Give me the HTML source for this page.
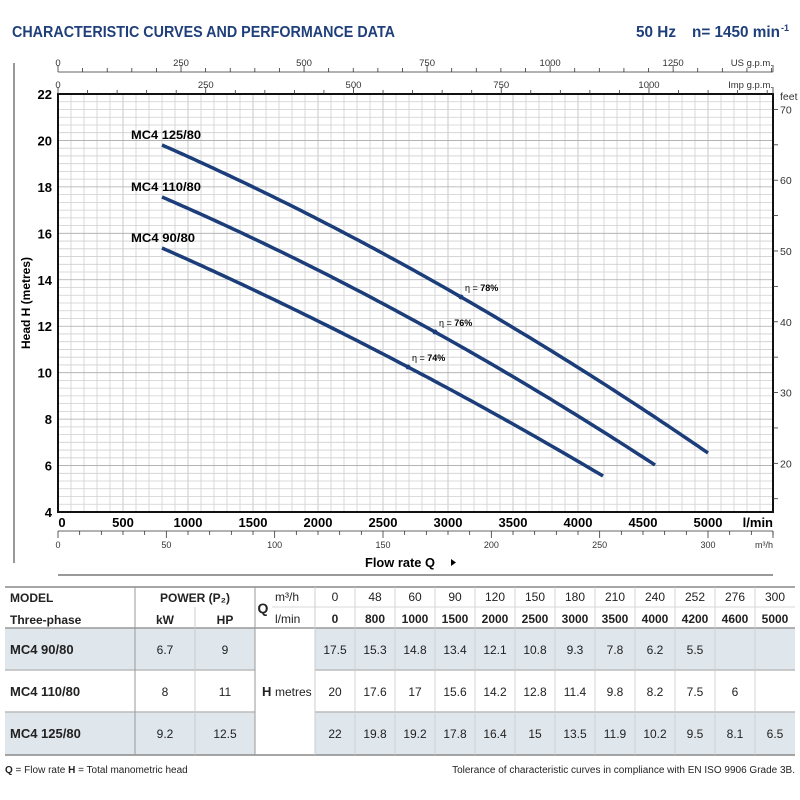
<!DOCTYPE html>
<html><head><meta charset="utf-8">
<style>
body{margin:0;background:#fff;width:800px;height:800px;overflow:hidden;font-family:"Liberation Sans",sans-serif;}
svg{position:absolute;left:0;top:0}
</style></head><body>
<svg id="s" width="800" height="800" xmlns="http://www.w3.org/2000/svg" font-family="Liberation Sans, sans-serif">
<text x="12" y="37" font-size="15.5" font-weight="bold" fill="#1f3f7a" textLength="383" lengthAdjust="spacingAndGlyphs">CHARACTERISTIC CURVES AND PERFORMANCE DATA</text>
<text x="636" y="37" font-size="15.5" font-weight="bold" fill="#1f3f7a" textLength="40" lengthAdjust="spacingAndGlyphs">50 Hz</text>
<text x="692" y="37" font-size="15.5" font-weight="bold" fill="#1f3f7a" textLength="88" lengthAdjust="spacingAndGlyphs">n= 1450 min</text><text x="781" y="31" font-size="9" font-weight="bold" fill="#1f3f7a">-1</text>
<line x1="14" y1="63" x2="14" y2="563" stroke="#333" stroke-width="1"/>
<g id="g"></g>
<text transform="translate(30,303) rotate(-90)" text-anchor="middle" font-size="12" font-weight="bold">Head H  (metres)</text>
<text x="400" y="567" text-anchor="middle" font-size="13" font-weight="bold" textLength="70" lengthAdjust="spacingAndGlyphs">Flow rate  Q</text>
<path d="M451,559 L456,562.5 L451,566 Z" fill="#000"/>
<line x1="58" y1="575" x2="773" y2="575" stroke="#333" stroke-width="1"/>
</svg>
<script>
const s=document.getElementById('g');let h='';
const X=q=>58+0.13*q, Y=m=>94+(22-m)*23.222;
for(let q=100;q<5500;q+=100)h+=`<line x1="${X(q)}" y1="94" x2="${X(q)}" y2="512" stroke="#c8c8c8" stroke-width="${q%500==0?1:0.7}"/>`;
for(let k=1;k<54;k++){let m=4+k/3;h+=`<line x1="58" y1="${Y(m)}" x2="773" y2="${Y(m)}" stroke="${k%6==0?'#aaa':'#cfcfcf'}" stroke-width="0.8"/>`;}
h+=`<rect x="58" y="94" width="715" height="418" fill="none" stroke="#111" stroke-width="2"/>`;
for(let m=4;m<=22;m+=2)h+=`<text x="52" y="${Y(m)+5}" text-anchor="end" font-size="13" font-weight="bold">${m}</text>`;
for(let q=0;q<=5000;q+=500)h+=`<text x="${X(q)+(q==0?4:0)}" y="527" text-anchor="middle" font-size="13" font-weight="bold">${q}</text>`;
h+=`<text x="773" y="527" text-anchor="end" font-size="13" font-weight="bold">l/min</text>`;
h+=`<line x1="58" y1="531" x2="773" y2="531" stroke="#333" stroke-width="0.8"/>`;
for(let v=0;v<=330;v+=10){let x=X(v*1000/60);if(x>773)break;h+=`<line x1="${x}" y1="531" x2="${x}" y2="${v%50==0?538:535}" stroke="#333" stroke-width="0.8"/>`;if(v%50==0)h+=`<text x="${x}" y="548" text-anchor="middle" font-size="9" fill="#333">${v}</text>`;}
h+=`<line x1="773" y1="531" x2="773" y2="538" stroke="#333" stroke-width="0.8"/><text x="773" y="548" text-anchor="end" font-size="9" fill="#333">m³/h</text>`;
h+=`<line x1="58" y1="72" x2="773" y2="72" stroke="#333" stroke-width="0.8"/>`;
for(let v=0;v<=1450;v+=50){let x=X(v*3.7854);if(x>773)break;h+=`<line x1="${x}" y1="${v%250==0?65:68}" x2="${x}" y2="72" stroke="#333" stroke-width="0.8"/>`;if(v%250==0)h+=`<text x="${x}" y="66" text-anchor="middle" font-size="9.5" fill="#333">${v}</text>`;}
h+=`<line x1="773" y1="65" x2="773" y2="72" stroke="#333" stroke-width="0.8"/><text x="773" y="66" text-anchor="end" font-size="9.5" fill="#333">US g.p.m.</text>`;
for(let v=0;v<=1250;v+=50){let x=X(v*4.546);if(x>773)break;h+=`<line x1="${x}" y1="${v%250==0?87:90}" x2="${x}" y2="94" stroke="#333" stroke-width="0.8"/>`;if(v%250==0)h+=`<text x="${x}" y="88" text-anchor="middle" font-size="9.5" fill="#333">${v}</text>`;}
h+=`<line x1="773" y1="87" x2="773" y2="94" stroke="#333" stroke-width="0.8"/><text x="773" y="88" text-anchor="end" font-size="9.5" fill="#333">Imp g.p.m.</text>`;
for(let f=15;f<=70;f+=5){let y=Y(f*0.3048);h+=`<line x1="773" y1="${y}" x2="778" y2="${y}" stroke="#333" stroke-width="0.8"/>`;if(f%10==0)h+=`<text x="780" y="${y+4}" font-size="10.5" fill="#333">${f}</text>`;}
h+=`<text x="780" y="100" font-size="10.5" fill="#333">feet</text>`;
const C=[[[162,248],[408,367],[603,476]],[[162,197],[435,332],[655,465]],[[162,145],[461,297],[708,453]]];
const L=['MC4 90/80','MC4 110/80','MC4 125/80'];
C.forEach((c,i)=>{const [[x0,y0],[x1,y1],[x2,y2]]=c;
const f=x=>y0*((x-x1)*(x-x2))/((x0-x1)*(x0-x2))+y1*((x-x0)*(x-x2))/((x1-x0)*(x1-x2))+y2*((x-x0)*(x-x1))/((x2-x0)*(x2-x1));
let p=[];for(let x=x0;x<=x2;x+=4)p.push(x+','+f(x).toFixed(1));p.push(x2+','+y2);
h+=`<polyline points="${p.join(' ')}" fill="none" stroke="#1b3d7a" stroke-width="3.5"/>`;
h+=`<text x="131" y="${y0-6}" font-size="12" font-weight="bold" textLength="${i==0?64:70}" lengthAdjust="spacingAndGlyphs">${L[i]}</text>`;});
[[408,367,'74'],[435,332,'76'],[461,297,'78']].forEach(e=>{h+=`<circle cx="${e[0]}" cy="${e[1]}" r="2.5" fill="#1b3d7a"/><text x="${e[0]+4}" y="${e[1]-6}" font-size="9">η = <tspan font-weight="bold">${e[2]}%</tspan></text>`;});
h+=`<rect x="5" y="628" width="250" height="42" fill="#dfe6ec"/><rect x="315" y="628" width="480" height="42" fill="#dfe6ec"/>`;
h+=`<rect x="5" y="712" width="250" height="43" fill="#dfe6ec"/><rect x="315" y="712" width="480" height="43" fill="#dfe6ec"/>`;
const ln=(a,b,c,d,w,col)=>h+=`<line x1="${a}" y1="${b}" x2="${c}" y2="${d}" stroke="${col||'#aaa'}" stroke-width="${w||1}"/>`;
ln(5,587,795,587,1.5,'#888');ln(5,628,795,628,1.5,'#999');ln(5,670,255,670,1.5,'#bbb');ln(315,670,795,670,1.5,'#bbb');ln(5,712,255,712,1.5,'#bbb');ln(315,712,795,712,1.5,'#bbb');ln(5,755,795,755,1.5,'#888');
ln(135,587,135,755,1,'#999');ln(195,607,195,755,1,'#ccc');ln(255,587,255,755,1,'#999');ln(315,587,315,755,1,'#ccc');ln(272,607,795,607,0.8,'#ccc');
for(let i=1;i<12;i++)ln(315+40*i,587,315+40*i,755,0.8,'#ccc');
const t=(x,y,s,o)=>h+=`<text x="${x}" y="${y}" font-size="${o&&o.fs||12}" ${o&&o.b?'font-weight="bold"':''} text-anchor="${o&&o.a||'middle'}" fill="#222">${s}</text>`;
t(10,602,'MODEL',{b:1,a:'start'});t(10,624,'Three-phase',{b:1,a:'start'});t(195,602,'POWER (P₂)',{b:1});t(165,624,'kW',{b:1});t(225,624,'HP',{b:1});
t(263,613,'Q',{b:1,fs:14});t(275,601,'m³/h',{a:'start'});t(275,623,'l/min',{a:'start'});
const M3=[0,48,60,90,120,150,180,210,240,252,276,300],LM=[0,800,1000,1500,2000,2500,3000,3500,4000,4200,4600,5000];
M3.forEach((v,i)=>{t(335+40*i,601,v);t(335+40*i,623,LM[i],{b:1});});
const R=[['MC4  90/80','6.7','9',[17.5,15.3,14.8,13.4,12.1,10.8,9.3,7.8,6.2,5.5]],['MC4  110/80','8','11',[20,17.6,17,15.6,14.2,12.8,11.4,9.8,8.2,7.5,6]],['MC4  125/80','9.2','12.5',[22,19.8,19.2,17.8,16.4,15,13.5,11.9,10.2,9.5,8.1,6.5]]];
R.forEach((r,j)=>{let y=654+42*j;t(10,y,r[0],{b:1,a:'start',fs:13});t(165,y,r[1]);t(225,y,r[2]);r[3].forEach((v,i)=>t(335+40*i,y,v));});
t(262,696,'H',{b:1,a:'start',fs:13});t(275,696,'metres',{a:'start'});
h+=`<text x="5" y="773" font-size="10" fill="#222"><tspan font-weight="bold">Q</tspan> = Flow rate   <tspan font-weight="bold">H</tspan> = Total manometric head</text>`;
h+=`<text x="795" y="773" font-size="10" text-anchor="end" fill="#222">Tolerance of characteristic curves in compliance with EN ISO 9906 Grade 3B.</text>`;
s.innerHTML=h;
</script>
</body></html>
